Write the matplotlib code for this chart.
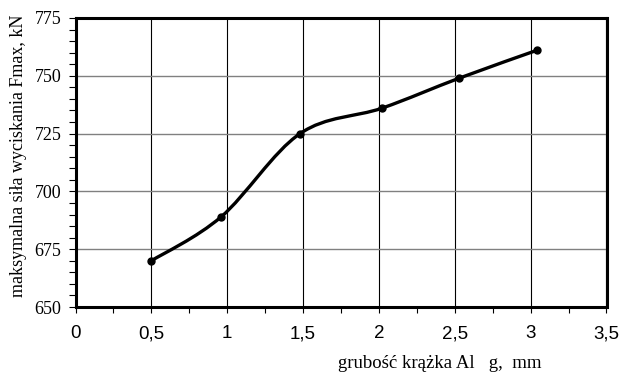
import matplotlib
matplotlib.use("Agg")
import matplotlib.pyplot as plt
from matplotlib.path import Path
from matplotlib.patches import PathPatch
from matplotlib.ticker import MultipleLocator, FuncFormatter
import numpy as np

# data
thickness = [0.5, 0.96, 1.48, 2.02, 2.53, 3.04]
fmax = [670, 689, 725, 736, 749, 761]

x_ticks = [0, 0.5, 1, 1.5, 2, 2.5, 3, 3.5]
y_ticks = [650, 675, 700, 725, 750, 775]
x_label = "grubość krążka Al   g,  mm"
y_label = "maksymalna siła wyciskania Fmax, kN"

fig = plt.figure(figsize=(6.22, 3.72), dpi=100)
ax = fig.add_axes([75.5/622, 1-307/372, (606.5-75.5)/622, (307-18)/372])

ax.set_xlim(0, 3.5)
ax.set_ylim(650, 775)
ax.set_xticks(x_ticks)
ax.set_yticks(y_ticks)
ax.xaxis.set_minor_locator(MultipleLocator(0.25))
ax.yaxis.set_minor_locator(MultipleLocator(5))
ax.xaxis.set_major_formatter(FuncFormatter(lambda v, p: f"{v:g}".replace(".", ",")))

# grid
ax.grid(axis="x", which="major", color="black", linewidth=0.8)
ax.grid(axis="y", which="major", color="#808080", linewidth=1.0)
ax.set_axisbelow(True)

for s in ax.spines.values():
    s.set_linewidth(2.2)
    s.set_color("black")

ax.tick_params(axis="x", which="both", direction="out", length=4, width=0.8,
               labelsize=13.5, pad=9)
ax.tick_params(axis="y", which="both", direction="out", length=5, width=0.8,
               labelsize=13, pad=5)
for lbl in ax.get_xticklabels():
    lbl.set_fontfamily("Liberation Sans")
for lbl in ax.get_yticklabels():
    lbl.set_fontfamily("Liberation Serif")

# smoothed line (Excel-style Bezier through points)
x = np.asarray(thickness, float)
y = np.asarray(fmax, float)
n = len(x)
verts = [(x[0], y[0])]
codes = [Path.MOVETO]
for i in range(n - 1):
    x0, y0 = (x[i-1], y[i-1]) if i > 0 else (x[i], y[i])
    x3, y3 = (x[i+2], y[i+2]) if i + 2 < n else (x[i+1], y[i+1])
    c1 = (x[i] + (x[i+1] - x0) / 6, y[i] + (y[i+1] - y0) / 6)
    c2 = (x[i+1] - (x3 - x[i]) / 6, y[i+1] - (y3 - y[i]) / 6)
    verts += [c1, c2, (x[i+1], y[i+1])]
    codes += [Path.CURVE4] * 3
ax.add_patch(PathPatch(Path(verts, codes), facecolor="none", edgecolor="black",
                       linewidth=2.4, zorder=3, capstyle="round", joinstyle="round"))
ax.plot(thickness, fmax, linestyle="none", marker="o", markersize=5,
        color="black", zorder=4)

fig.text(18.5/622, 1-156/372, y_label, fontfamily="Liberation Serif", fontsize=13,
         rotation=90, ha="center", va="center")
fig.text(440/622, 1-363/372, x_label, fontfamily="Liberation Serif", fontsize=13.5,
         ha="center", va="center")

fig.savefig("out.png", dpi=100)
